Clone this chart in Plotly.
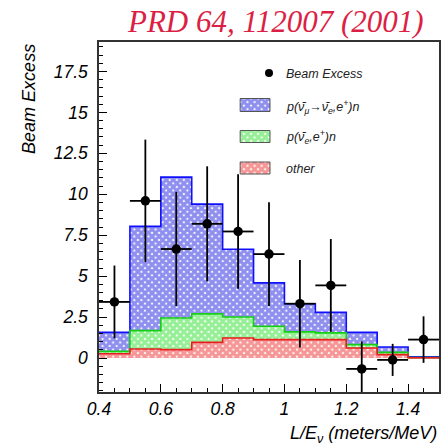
import plotly.graph_objects as go

# Histogram bins in L/E (meters/MeV)
bin_lo = [0.4, 0.5, 0.6, 0.7, 0.8, 0.9, 1.0, 1.1, 1.2, 1.3, 1.4]
bin_width = 0.1

# Stacked expectations (cumulative heights per bin)
total_osc = [1.57, 8.04, 11.05, 9.40, 6.65, 4.59, 3.32, 2.79, 1.57, 0.68, 0.08]   # nu_mu -> nu_e + nu_e + other
nue_bkg = [0.41, 1.68, 2.45, 2.70, 2.51, 1.94, 1.60, 1.54, 0.82, 0.35, 0.04]     # nu_e + other
other_bkg = [0.27, 0.56, 0.52, 0.96, 1.23, 1.13, 1.13, 1.13, 0.62, 0.21, 0.02]   # other

# Measured beam excess with errors
excess = [3.43, 9.60, 6.66, 8.20, 7.73, 6.35, 3.32, 4.44, -0.66, -0.11, 1.13]
excess_err = [2.22, 3.74, 3.49, 3.51, 3.49, 3.17, 2.67, 2.83, 1.68, 0.98, 1.42]

centers = [lo + bin_width / 2 for lo in bin_lo]
edges = bin_lo + [bin_lo[-1] + bin_width]

BLUE = "#1f1fe0"
GREEN = "#2ee02e"
RED = "#ee3030"
SOLIDITY = 0.85

styles = [
    (total_osc, BLUE, "#1010ff"),
    (nue_bkg, GREEN, "#14d014"),
    (other_bkg, RED, "#e81e1e"),
]

# Figure geometry (pixels)
W, H = 442, 447
ML, MR, MT, MB = 99, 1, 42, 55
PW, PH = W - ML - MR, H - MT - MB


def px_x(px):
    return (px - ML) / PW


def px_y(py):
    return (H - MB - py) / PH


fig = go.Figure()

for vals, fg, edge in styles:
    fig.add_trace(go.Bar(
        x=centers, y=vals, width=bin_width,
        marker=dict(color="white", line=dict(width=0),
                    pattern=dict(shape="x", fgcolor=fg, bgcolor="white",
                                 size=5, solidity=SOLIDITY)),
        showlegend=False, hoverinfo="skip"))

for vals, fg, edge in styles:
    fig.add_trace(go.Scatter(
        x=edges, y=vals + [vals[-1]], mode="lines",
        line=dict(color=edge, width=1.6, shape="hv"),
        showlegend=False, hoverinfo="skip"))

fig.add_trace(go.Scatter(
    x=centers, y=excess, mode="markers",
    marker=dict(color="black", size=9.5),
    error_y=dict(type="data", array=excess_err, color="black", thickness=1.8, width=0),
    error_x=dict(type="constant", value=bin_width / 2, color="black", thickness=1.8, width=0),
    showlegend=False, hoverinfo="skip"))

# Legend keys drawn on a pixel-scaled helper axis laid over the plot area
key_x0, key_x1 = 142, 172
key_rows = [(BLUE, 280.5, 293.5), (GREEN, 249.5, 261.5), (RED, 218, 230)]
for fg, y0, y1 in key_rows:
    fig.add_trace(go.Scatter(
        x=[key_x0, key_x1, key_x1, key_x0, key_x0], y=[y0, y0, y1, y1, y0],
        xaxis="x2", yaxis="y2", mode="lines", fill="toself",
        line=dict(color="#555555", width=1),
        fillcolor="white",
        fillpattern=dict(shape="x", fgcolor=fg, bgcolor="white", size=5, solidity=SOLIDITY),
        showlegend=False, hoverinfo="skip"))
fig.add_trace(go.Scatter(
    x=[171], y=[H - MB - 73], xaxis="x2", yaxis="y2", mode="markers",
    marker=dict(color="black", size=8), showlegend=False, hoverinfo="skip"))

legend_font = dict(family="Liberation Sans, Arial", size=12.5, color="#222222")
legend_text = [
    ("<i>Beam Excess</i>", 74),
    ("<i>p(\u03bd\u0304<sub>\u03bc</sub>\u2192\u03bd\u0304<sub>e</sub>,e<sup>+</sup>)n</i>", 107),
    ("<i>p(\u03bd\u0304<sub>e</sub>,e<sup>+</sup>)n</i>", 137),
    ("<i>other</i>", 169),
]
annotations = []
for txt, ypx in legend_text:
    annotations.append(dict(
        text=txt, x=px_x(285), y=px_y(ypx), xref="paper", yref="paper",
        xanchor="left", yanchor="middle", showarrow=False, font=legend_font))

axis_font = dict(family="Liberation Sans, Arial", size=18, color="black")
annotations += [
    dict(text="<i>PRD 64, 112007 (2001)</i>", x=px_x(277), y=px_y(22),
         xref="paper", yref="paper", xanchor="center", yanchor="middle",
         showarrow=False,
         font=dict(family="Liberation Serif, Times New Roman", size=31, color="#dc1f45")),
    dict(text="<i>Beam Excess</i>", textangle=-90, x=px_x(28.5), y=px_y(99),
         xref="paper", yref="paper", xanchor="center", yanchor="middle",
         showarrow=False, font=axis_font),
    dict(text="<i>L/E<sub>\u03bd</sub> (meters/MeV)</i>", x=px_x(441), y=px_y(434),
         xref="paper", yref="paper", xanchor="right", yanchor="middle",
         showarrow=False, font=axis_font),
]

tick_font = dict(family="Liberation Sans, Arial", size=17.5, color="black")
fig.update_layout(
    width=W, height=H,
    margin=dict(l=ML, r=MR, t=MT, b=MB),
    paper_bgcolor="white", plot_bgcolor="white",
    barmode="overlay", bargap=0,
    font=dict(family="Liberation Sans, Arial"),
    xaxis=dict(range=[0.4, 1.5], dtick=0.2, tick0=0.4, ticks="inside", ticklen=8,
               tickwidth=1, tickcolor="black",
               minor=dict(dtick=0.05, ticks="inside", ticklen=4, tickcolor="black"),
               showline=True, linecolor="#333333", linewidth=1.5, mirror=True,
               showgrid=False, zeroline=False, tickfont=tick_font,
               tickprefix="<i>", ticksuffix="</i>", ticklabelstandoff=0),
    yaxis=dict(range=[-2.07, 19.3], dtick=2.5, tick0=0, ticks="inside", ticklen=8,
               tickwidth=1, tickcolor="black",
               minor=dict(dtick=0.5, ticks="inside", ticklen=4, tickcolor="black"),
               showline=True, linecolor="#333333", linewidth=1.5, mirror=True,
               showgrid=False, zeroline=False, tickfont=tick_font,
               tickprefix="<i>", ticksuffix="</i>", ticklabelstandoff=6),
    xaxis2=dict(range=[0, PW], overlaying="x", visible=False, fixedrange=True),
    yaxis2=dict(range=[0, PH], overlaying="y", visible=False, fixedrange=True),
    annotations=annotations,
)

fig.write_html("out.html", config={"displayModeBar": False})
